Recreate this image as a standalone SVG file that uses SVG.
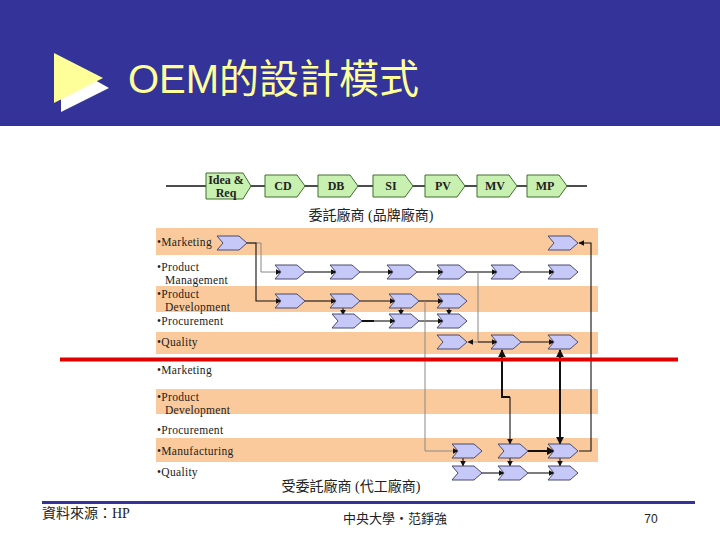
<svg xmlns="http://www.w3.org/2000/svg" width="720" height="540" viewBox="0 0 720 540">
<style>
.band{fill:#FBCA9C}
.lbl{font-family:"Liberation Serif","DejaVu Serif",serif;font-size:11.5px;fill:#222;letter-spacing:0.3px}
.gb{fill:#C8F0B0;stroke:#3F6F2F;stroke-width:1}
.gt{font-family:"Liberation Serif",serif;font-size:12px;font-weight:bold;fill:#222;text-anchor:middle}
.ch{fill:#C6C9F7;stroke:#4A4A70;stroke-width:1}
.c{fill:none;stroke:#111;stroke-width:1.1}
.cg{fill:none;stroke:#888;stroke-width:1}
.ck{fill:none;stroke:#111;stroke-width:2}
.cjk{font-family:"Liberation Serif","Noto Sans CJK TC",serif;fill:#222}
</style>
<defs>
<path id="chev" d="M0,-7 L22,-7 L30,0 L22,7 L0,7 L6,0 Z"/>
<marker id="ah" viewBox="0 0 10 10" refX="9" refY="5" markerWidth="6" markerHeight="6" markerUnits="userSpaceOnUse" orient="auto-start-reverse"><path d="M0,0 L10,5 L0,10 Z" fill="#111"/></marker>
<marker id="ahk" viewBox="0 0 10 10" refX="9" refY="5" markerWidth="4" markerHeight="4" orient="auto-start-reverse"><path d="M0,0 L10,5 L0,10 Z" fill="#111"/></marker>
</defs>
<rect width="720" height="540" fill="#fff"/>
<g id="header">
<rect x="0" y="0" width="720" height="126" fill="#333399"/>
<polygon points="61,61 61,112 109,88" fill="#fff"/>
<polygon points="54,53 54,103 103,78" fill="#FFFF99"/>
<text x="128" y="93" font-family="'Liberation Sans','Noto Sans CJK TC',sans-serif" font-size="40" fill="#FFFF99">OEM的設計模式</text>
</g>
<g id="bands">
<rect class="band" x="156" y="228" width="442" height="27"/>
<rect class="band" x="156" y="286" width="442" height="26"/>
<rect class="band" x="156" y="332" width="442" height="22"/>
<rect class="band" x="156" y="389" width="442" height="25"/>
<rect class="band" x="156" y="438" width="442" height="24"/>
</g>
<g id="labels">
<text class="lbl" x="157" y="246">•Marketing</text>
<text class="lbl" x="157" y="271">•Product</text>
<text class="lbl" x="165" y="284">Management</text>
<text class="lbl" x="157" y="298">•Product</text>
<text class="lbl" x="165" y="311">Development</text>
<text class="lbl" x="157" y="325">•Procurement</text>
<text class="lbl" x="157" y="346">•Quality</text>
<text class="lbl" x="157" y="374">•Marketing</text>
<text class="lbl" x="157" y="401">•Product</text>
<text class="lbl" x="165" y="414">Development</text>
<text class="lbl" x="157" y="434">•Procurement</text>
<text class="lbl" x="157" y="455">•Manufacturing</text>
<text class="lbl" x="157" y="476">•Quality</text>
</g>
<g id="process">
<line x1="166" y1="186" x2="587" y2="186" stroke="#111" stroke-width="1.5"/>
<g id="idea"><path class="gb" d="M206,173 H243 L251,186 L243,199 H206 Z"/><text class="gt" x="226" y="184" font-size="11">Idea &amp;</text><text class="gt" x="226" y="197" font-size="11">Req</text></g>
<g id="cd"><path class="gb" d="M265,175 H297 L305,186 L297,197 H265 Z"/><text class="gt" x="283" y="190">CD</text></g>
<g id="db"><path class="gb" d="M318,175 H350 L358,186 L350,197 H318 Z"/><text class="gt" x="336" y="190">DB</text></g>
<g id="si"><path class="gb" d="M373,175 H405 L413,186 L405,197 H373 Z"/><text class="gt" x="391" y="190">SI</text></g>
<g id="pv"><path class="gb" d="M425,175 H457 L465,186 L457,197 H425 Z"/><text class="gt" x="443" y="190">PV</text></g>
<g id="mv"><path class="gb" d="M477,175 H509 L517,186 L509,197 H477 Z"/><text class="gt" x="495" y="190">MV</text></g>
<g id="mp"><path class="gb" d="M527,175 H559 L567,186 L559,197 H527 Z"/><text class="gt" x="545" y="190">MP</text></g>
</g>
<text class="cjk" x="371" y="220" font-size="14" text-anchor="middle">委託廠商 (品牌廠商)</text>
<text class="cjk" x="351" y="491" font-size="14" text-anchor="middle">受委託廠商 (代工廠商)</text>
<g id="connectors">
<path class="cg" d="M247,243 H261 V272 H281" marker-end="url(#ah)"/>
<path class="c" d="M247,243 H256 V301 H281" marker-end="url(#ah)"/>
<path class="c" d="M305,272 H336" marker-end="url(#ah)"/>
<path class="c" d="M360,272 H393" marker-end="url(#ah)"/>
<path class="c" d="M417,272 H443" marker-end="url(#ah)"/>
<path class="c" d="M467,272 H497" marker-end="url(#ah)"/>
<path class="c" d="M521,272 H554" marker-end="url(#ah)"/>
<path class="cg" d="M478,272 V342"/>
<path class="cg" d="M478,342 H468" marker-end="url(#ah)"/>
<path class="c" d="M478,342 H497" marker-end="url(#ah)"/>
<path class="c" d="M305,301 H336" marker-end="url(#ah)"/>
<path class="c" d="M360,301 H395" marker-end="url(#ah)"/>
<path class="c" d="M419,301 H443" marker-end="url(#ah)"/>
<path class="c" d="M343,308 V315" marker-end="url(#ah)"/>
<path class="c" d="M401,308 V315" marker-end="url(#ah)"/>
<path class="c" d="M449,308 V315" marker-end="url(#ah)"/>
<path class="ck" d="M362,321 H374"/>
<path class="c" d="M374,321 H395" marker-end="url(#ah)"/>
<path class="c" d="M419,321 H443" marker-end="url(#ah)"/>
<path class="c" d="M521,342 H554" marker-end="url(#ah)"/>
<path class="cg" d="M425,301 V451 H458" stroke="#666" marker-end="url(#ah)"/>
<path class="c" d="M579,451 H591 V243 H579" stroke="#444" marker-end="url(#ah)"/>
<path class="ck" d="M502,350 V397 H510" marker-start="url(#ahk)"/>
<path class="c" d="M510,397 V444" marker-end="url(#ah)"/>
<path class="ck" d="M560,350 V444" marker-start="url(#ahk)" marker-end="url(#ahk)"/>
<path class="ck" d="M528,451 H554" marker-end="url(#ahk)"/>
<path class="c" d="M463,458 V466" marker-end="url(#ah)"/>
<path class="c" d="M510,458 V466" marker-end="url(#ah)"/>
<path class="c" d="M560,458 V466" marker-end="url(#ah)"/>
<path class="c" d="M482,473 H504" marker-end="url(#ah)"/>
<path class="c" d="M528,473 H554" marker-end="url(#ah)"/>
</g>
<g id="chevrons">
<g id="mk1"><use href="#chev" class="ch" x="217" y="243"/></g>
<g id="mk2"><use href="#chev" class="ch" x="548" y="243"/></g>
<g id="pm1"><use href="#chev" class="ch" x="275" y="272"/></g>
<g id="pm2"><use href="#chev" class="ch" x="330" y="272"/></g>
<g id="pm3"><use href="#chev" class="ch" x="387" y="272"/></g>
<g id="pm4"><use href="#chev" class="ch" x="437" y="272"/></g>
<g id="pm5"><use href="#chev" class="ch" x="491" y="272"/></g>
<g id="pm6"><use href="#chev" class="ch" x="548" y="272"/></g>
<g id="pd1"><use href="#chev" class="ch" x="275" y="301"/></g>
<g id="pd2"><use href="#chev" class="ch" x="330" y="301"/></g>
<g id="pd3"><use href="#chev" class="ch" x="389" y="301"/></g>
<g id="pd4"><use href="#chev" class="ch" x="437" y="301"/></g>
<g id="pr1"><use href="#chev" class="ch" x="332" y="321"/></g>
<g id="pr2"><use href="#chev" class="ch" x="389" y="321"/></g>
<g id="pr3"><use href="#chev" class="ch" x="437" y="321"/></g>
<g id="q1"><use href="#chev" class="ch" x="437" y="342"/></g>
<g id="q2"><use href="#chev" class="ch" x="491" y="342"/></g>
<g id="q3"><use href="#chev" class="ch" x="548" y="342"/></g>
<g id="mf1"><use href="#chev" class="ch" x="452" y="451"/></g>
<g id="mf2"><use href="#chev" class="ch" x="498" y="451"/></g>
<g id="mf3"><use href="#chev" class="ch" x="548" y="451"/></g>
<g id="lq1"><use href="#chev" class="ch" x="452" y="473"/></g>
<g id="lq2"><use href="#chev" class="ch" x="498" y="473"/></g>
<g id="lq3"><use href="#chev" class="ch" x="548" y="473"/></g>
</g>
<line x1="60" y1="359.5" x2="678" y2="359.5" stroke="#E00000" stroke-width="4"/>
<g id="footer">
<rect x="42" y="501" width="653" height="3" fill="#333399"/>
<text class="cjk" x="42" y="518" font-size="14">資料來源：HP</text>
<text class="cjk" x="395" y="523" font-size="13" text-anchor="middle">中央大學‧范錚強</text>
<text x="651" y="523" font-family="'Liberation Sans',sans-serif" font-size="12" fill="#222" text-anchor="middle">70</text>
</g>
</svg>
